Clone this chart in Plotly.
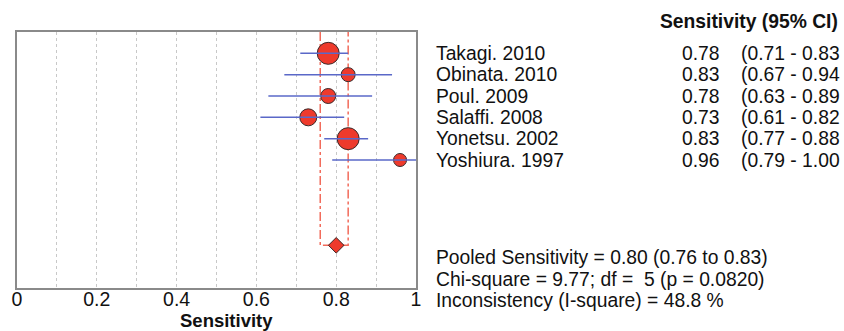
import plotly.graph_objects as go

studies = ["Takagi. 2010", "Obinata. 2010", "Poul. 2009", "Salaffi. 2008", "Yonetsu. 2002", "Yoshiura. 1997"]
sens = [0.78, 0.83, 0.78, 0.73, 0.83, 0.96]
lo = [0.71, 0.67, 0.63, 0.61, 0.77, 0.79]
hi = [0.83, 0.94, 0.89, 0.82, 0.88, 1.00]
weights = [22, 14, 15, 17, 22, 13]  # marker diameters (study weight)
rows = [1, 2, 3, 4, 5, 6]
pooled = 0.80
pooled_lo = 0.76
pooled_hi = 0.83
pooled_row = 10
stats_lines = [
    "Pooled Sensitivity = 0.80 (0.76 to 0.83)",
    "Chi-square = 9.77; df =  5 (p = 0.0820)",
    "Inconsistency (I-square) = 48.8 %",
]
tick_vals = [0, 0.2, 0.4, 0.6, 0.8, 1.0]
tick_text = ["0", "0.2", "0.4", "0.6", "0.8", "1"]

FONT = "Arial, Liberation Sans, sans-serif"
FS = 19.3
W, H = 844, 331
L, R, T, B = 14, 416, 32, 288

def px_x(p):
    return (p - L) / (R - L)

def px_y(p):
    return (B - p) / (B - T)

fig = go.Figure()

# pooled CI bracket (dash-dot)
fig.add_trace(go.Scatter(
    x=[pooled_lo, pooled_lo, pooled_hi, pooled_hi],
    y=[0, pooled_row, pooled_row, 0],
    mode="lines", line=dict(color="#f26b5b", width=1.5, dash="dashdot"),
    hoverinfo="skip", showlegend=False))

# study markers
fig.add_trace(go.Scatter(
    x=sens, y=rows, mode="markers",
    marker=dict(size=weights, color="#ee3a2c", opacity=1,
                line=dict(color="#3a2a2a", width=1)),
    showlegend=False))

# CI lines
cx, cy = [], []
for a, b, r in zip(lo, hi, rows):
    cx += [a, b, None]
    cy += [r, r, None]
fig.add_trace(go.Scatter(
    x=cx, y=cy, mode="lines", line=dict(color="#5a68c8", width=1.5),
    hoverinfo="skip", showlegend=False))

# pooled diamond
fig.add_trace(go.Scatter(
    x=[pooled], y=[pooled_row], mode="markers",
    marker=dict(symbol="diamond", size=12, color="#ee3a2c", opacity=1,
                line=dict(color="#3a2a2a", width=1)),
    showlegend=False))

ann = []
ann.append(dict(text="<b>Sensitivity (95% CI)</b>", xref="paper", yref="paper",
                x=px_x(843), y=px_y(21), xanchor="right", yanchor="middle",
                showarrow=False, font=dict(size=FS, color="#111", family=FONT)))
for s, v, a, b, r in zip(studies, sens, lo, hi, rows):
    ann.append(dict(text=s, xref="paper", yref="y", x=px_x(434), y=r,
                    xanchor="left", yanchor="middle", showarrow=False,
                    font=dict(size=FS, color="#111", family=FONT)))
    ann.append(dict(text=f"{v:.2f}", xref="paper", yref="y", x=px_x(724), y=r,
                    xanchor="right", yanchor="middle", showarrow=False,
                    font=dict(size=FS, color="#111", family=FONT)))
    ann.append(dict(text=f"({a:.2f} - {b:.2f}", xref="paper", yref="y", x=px_x(741), y=r,
                    xanchor="left", yanchor="middle", showarrow=False,
                    font=dict(size=FS, color="#111", family=FONT)))
for line, py in zip(stats_lines, [257, 279, 300]):
    ann.append(dict(text=line, xref="paper", yref="paper", x=px_x(434), y=px_y(py),
                    xanchor="left", yanchor="middle", showarrow=False,
                    font=dict(size=FS, color="#111", family=FONT)))
ann.append(dict(text="<b>Sensitivity</b>", xref="paper", yref="paper",
                x=px_x(225), y=px_y(320.5), xanchor="center", yanchor="middle",
                showarrow=False, font=dict(size=18.5, color="#111", family=FONT)))

fig.update_layout(
    width=W, height=H,
    margin=dict(l=L, r=W - R, t=T, b=H - B, pad=0),
    paper_bgcolor="white", plot_bgcolor="white",
    annotations=ann,
    font=dict(family=FONT),
)
fig.update_xaxes(
    range=[0, 1], tickvals=tick_vals, ticktext=tick_text,
    tickfont=dict(size=19.5, color="#111", family=FONT),
    ticklabelstandoff=-7,
    showgrid=True, gridcolor="#c8c8c8", griddash="dot", gridwidth=1,
    minor=dict(dtick=0.1, showgrid=True, gridcolor="#c8c8c8", griddash="dot", gridwidth=1),
    showline=True, linecolor="#8a8a8a", linewidth=2, mirror=True,
    ticks="", zeroline=False, fixedrange=True)
fig.update_yaxes(
    range=[12, 0], showticklabels=False, showgrid=False, zeroline=False,
    showline=True, linecolor="#8a8a8a", linewidth=2, mirror=True, ticks="",
    fixedrange=True)

fig.write_html("out.html")
